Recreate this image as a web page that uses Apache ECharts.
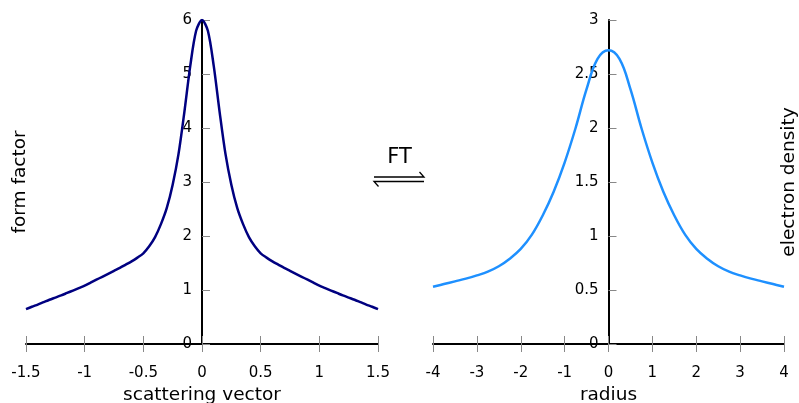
<!DOCTYPE html>
<html><head><meta charset="utf-8">
<script src="https://cdn.jsdelivr.net/npm/echarts@6/dist/echarts.min.js"></script>
<style>html,body{margin:0;padding:0;background:#fff}#c{width:799px;height:403px}</style>
</head><body><div id="c"></div>
<script>
// Left panel: form factor vs scattering vector
var leftX = [-1.5,-1.45,-1.4,-1.35,-1.3,-1.25,-1.2,-1.15,-1.1,-1.05,-1.0,-0.95,-0.9,-0.85,-0.8,-0.75,-0.7,-0.65,-0.6,-0.55,-0.5,-0.45,-0.4,-0.35,-0.3,-0.25,-0.2,-0.15,-0.1,-0.05,0,
             0.05,0.1,0.15,0.2,0.25,0.3,0.35,0.4,0.45,0.5,0.55,0.6,0.65,0.7,0.75,0.8,0.85,0.9,0.95,1.0,1.05,1.1,1.15,1.2,1.25,1.3,1.35,1.4,1.45,1.5];
var leftY = [0.645,0.69,0.73,0.775,0.82,0.86,0.90,0.945,0.99,1.035,1.08,1.135,1.19,1.245,1.30,1.355,1.41,1.47,1.53,1.60,1.68,1.81,1.98,2.22,2.52,2.95,3.52,4.3,5.15,5.8,6.0,
             5.8,5.15,4.3,3.52,2.95,2.52,2.22,1.98,1.81,1.68,1.60,1.53,1.47,1.41,1.355,1.30,1.245,1.19,1.135,1.08,1.035,0.99,0.945,0.90,0.86,0.82,0.775,0.73,0.69,0.645];
// Right panel: electron density vs radius
var rightX = [-4,-3.75,-3.5,-3.25,-3,-2.75,-2.5,-2.25,-2,-1.75,-1.5,-1.25,-1,-0.75,-0.5,-0.25,0,0.25,0.5,0.75,1,1.25,1.5,1.75,2,2.25,2.5,2.75,3,3.25,3.5,3.75,4];
var rightY = [0.53,0.555,0.58,0.605,0.635,0.67,0.72,0.79,0.88,1.01,1.19,1.41,1.68,2.0,2.36,2.64,2.72,2.64,2.36,2.0,1.68,1.41,1.19,1.01,0.88,0.79,0.72,0.67,0.635,0.605,0.58,0.555,0.53];
var leftXTicks = {min:-1.5, max:1.5, interval:0.5};
var leftYTicks = {min:0, max:6, interval:1};
var rightXTicks = {min:-4, max:4, interval:1};
var rightYTicks = {min:0, max:3, interval:0.5};
var axisNames = {lx:'scattering vector', ly:'form factor', rx:'radius', ry:'electron density'};

function pairs(xs, ys){ return xs.map(function(x,i){return [x, ys[i]];}); }
var FONT = 'DejaVu Sans';
var tickLbl = {fontFamily:FONT, fontSize:15, color:'#000'};
var nameSt = {fontFamily:FONT, fontSize:18.5, color:'#000'};

function xMain(grid, t, name){
  return {type:'value', gridIndex:grid, min:t.min, max:t.max, interval:t.interval, position:'bottom',
    name:name, nameLocation:'middle', nameGap:42, nameTextStyle:nameSt, nameMoveOverlap:false,
    axisLine:{show:true, onZero:false, lineStyle:{color:'#000', width:2}},
    axisTick:{show:true, inside:false, length:8, lineStyle:{color:'#888', width:1}},
    axisLabel:Object.assign({margin:22, formatter:function(v){return String(v);}}, tickLbl),
    splitLine:{show:false}};
}
function xInner(grid, t){
  return {type:'value', gridIndex:grid, min:t.min, max:t.max, interval:t.interval, position:'bottom',
    axisLine:{show:false, onZero:false},
    axisTick:{show:true, inside:true, length:8, lineStyle:{color:'#888', width:1}},
    axisLabel:{show:false}, splitLine:{show:false}};
}
function yMain(grid, t, name, gap, off){
  return {type:'value', gridIndex:grid, min:t.min, max:t.max, interval:t.interval, position:'left', offset:off,
    name:name, nameLocation:'middle', nameGap:gap, nameTextStyle:nameSt, nameMoveOverlap:false,
    axisLine:{show:true, onZero:false, lineStyle:{color:'#000', width:2}},
    axisTick:{show:true, inside:true, length:8, lineStyle:{color:'#888', width:1}},
    axisLabel:Object.assign({margin:10}, tickLbl),
    splitLine:{show:false}};
}

var chart = echarts.init(document.getElementById('c'), null, {renderer:'canvas'});
chart.setOption({
  animation:false,
  backgroundColor:'#fff',
  grid:[{left:26, right:421, top:20, bottom:59, containLabel:false, outerBoundsMode:'none'},
        {left:433, right:15, top:20, bottom:59, containLabel:false, outerBoundsMode:'none'}],
  xAxis:[xMain(0, leftXTicks, axisNames.lx), xInner(0, leftXTicks), xMain(1, rightXTicks, axisNames.rx), xInner(1, rightXTicks)],
  yAxis:[yMain(0, leftYTicks, axisNames.ly, 172, -176), yMain(1, rightYTicks, axisNames.ry, -190, -175.5)],
  series:[
    {type:'line', xAxisIndex:0, yAxisIndex:0, data:pairs(leftX,leftY), smooth:0.3, showSymbol:false,
     lineStyle:{color:'#000080', width:2.5}, z:1},
    {type:'line', xAxisIndex:2, yAxisIndex:1, data:pairs(rightX,rightY), smooth:0.4, showSymbol:false,
     lineStyle:{color:'#1E90FF', width:2.5}, z:1}
  ],
  graphic:[
    {type:'text', x:399.5, y:157.5, style:{text:'FT', fontFamily:FONT, fontSize:21, fill:'#000', textAlign:'center', textVerticalAlign:'middle'}},
    {type:'polyline', shape:{points:[[374,177],[424,177],[419.5,172]]}, style:{stroke:'#000', lineWidth:1.3, fill:null}},
    {type:'polyline', shape:{points:[[378.5,186.5],[374,181.5],[424,181.5]]}, style:{stroke:'#000', lineWidth:1.3, fill:null}}
  ]
});
</script></body></html>
